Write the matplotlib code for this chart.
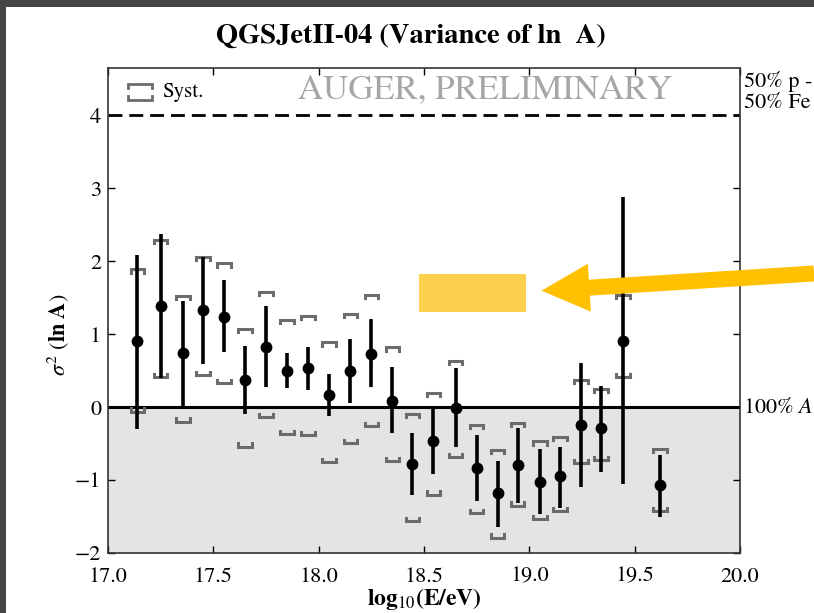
import numpy as np
import matplotlib
matplotlib.use("Agg")
from matplotlib import pyplot as plt
from matplotlib.patches import Rectangle, Polygon

plt.rcParams['font.family'] = ['STIXGeneral', 'DejaVu Serif']
plt.rcParams['mathtext.fontset'] = 'stix'

# log10(E/eV) of each bin
lg_e = np.array([17.14, 17.25, 17.355, 17.45, 17.55, 17.65, 17.75, 17.85, 17.95, 18.05,
                 18.15, 18.25, 18.35, 18.445, 18.545, 18.65, 18.75, 18.85, 18.945, 19.05,
                 19.145, 19.245, 19.34, 19.445, 19.62])
# sigma^2(ln A) and its statistical band
var_lna = np.array([0.90, 1.39, 0.74, 1.33, 1.24, 0.37, 0.83, 0.50, 0.53, 0.16,
                    0.49, 0.73, 0.09, -0.78, -0.46, -0.01, -0.83, -1.18, -0.80, -1.02,
                    -0.95, -0.24, -0.29, 0.91, -1.07])
stat_hi = np.array([2.09, 2.38, 1.46, 2.06, 1.74, 0.84, 1.38, 0.74, 0.82, 0.45,
                    0.93, 1.21, 0.55, -0.36, -0.02, 0.53, -0.38, -0.74, -0.29, -0.58,
                    -0.55, 0.60, 0.29, 2.88, -0.66])
stat_lo = np.array([-0.30, 0.40, -0.01, 0.59, 0.75, -0.10, 0.27, 0.26, 0.23, -0.12,
                    0.06, 0.27, -0.36, -1.21, -0.92, -0.54, -1.29, -1.65, -1.32, -1.47,
                    -1.38, -1.10, -0.89, -1.06, -1.50])
# systematic brackets
syst_hi = np.array([1.89, 2.29, 1.53, 2.06, 1.97, 1.07, 1.58, 1.20, 1.25, 0.89,
                    1.28, 1.54, 0.82, -0.09, 0.20, 0.63, -0.24, -0.59, -0.22, -0.47,
                    -0.41, 0.37, 0.25, 1.54, -0.57])
syst_lo = np.array([-0.06, 0.41, -0.20, 0.44, 0.33, -0.54, -0.14, -0.37, -0.38, -0.75,
                    -0.49, -0.26, -0.74, -1.56, -1.20, -0.69, -1.45, -1.79, -1.35, -1.54,
                    -1.43, -0.77, -0.73, 0.41, -1.43])

W, H = 814, 613
fig = plt.figure(figsize=(W / 100, H / 100), dpi=100)
fig.patch.set_facecolor('#454545')
fig.add_artist(Rectangle((6 / W, 0), 1, 1 - 7 / H, transform=fig.transFigure,
                         facecolor='white', edgecolor='none', zorder=-10))

ax = fig.add_axes([108 / W, 1 - 553 / H, 632 / W, 485 / H])
ax.set_xlim(17.0, 20.0)
ax.set_ylim(-2, 4.65)
ax.axhspan(-2, 0, color='#e4e4e4', zorder=0)
ax.axhline(0, color='black', lw=2.2, zorder=2)
ax.axhline(4, color='black', lw=2.0, ls=(0, (5, 2.5)), zorder=2)

# systematic brackets
bw, bh = 0.032, 0.045
gray = '#6b6b6b'
for x, hi, lo in zip(lg_e, syst_hi, syst_lo):
    ax.plot([x - bw, x - bw, x + bw, x + bw], [hi - bh, hi, hi, hi - bh],
            color=gray, lw=2.2, solid_joinstyle='miter', zorder=3)
    ax.plot([x - bw, x - bw, x + bw, x + bw], [lo + bh, lo, lo, lo + bh],
            color=gray, lw=2.2, solid_joinstyle='miter', zorder=3)

ax.errorbar(lg_e, var_lna, yerr=[var_lna - stat_lo, stat_hi - var_lna], fmt='o',
            color='black', ms=7.5, elinewidth=2.6, capsize=0, zorder=4)

# legend entry
lx0, lx1 = 0.032, 0.069
ly0, ly1 = 0.934, 0.966
ax.plot([lx0, lx0, lx1, lx1], [ly1 - 0.008, ly1, ly1, ly1 - 0.008], color=gray, lw=2,
        transform=ax.transAxes, solid_joinstyle='miter')
ax.plot([lx0, lx0, lx1, lx1], [ly0 + 0.008, ly0, ly0, ly0 + 0.008], color=gray, lw=2,
        transform=ax.transAxes, solid_joinstyle='miter')
ax.text(0.085, 0.950, 'Syst.', transform=ax.transAxes, fontsize=15, va='center')
ax.text(0.597, 0.955, 'AUGER, PRELIMINARY', transform=ax.transAxes, fontsize=25,
        color='#a6a6a6', ha='center', va='center')

ax.set_xticks([17.0, 17.5, 18.0, 18.5, 19.0, 19.5, 20.0])
ax.set_yticks([-2, -1, 0, 1, 2, 3, 4])
ax.tick_params(direction='in', top=True, right=True, length=5, width=1, labelsize=16)
ax.tick_params(axis='x', pad=10)
ax.tick_params(axis='y', pad=5)
for s in ax.spines.values():
    s.set_color('#333333')
    s.set_linewidth(1.2)

ax.set_xlabel(r'$\mathbf{log}_{10}\mathbf{(E/eV)}$', fontsize=17)
ax.set_ylabel(r'$\sigma^2\ (\mathbf{ln\ A})$', fontsize=16)
ax.xaxis.set_label_coords(0.5, -0.068)
ax.yaxis.set_label_coords(-0.058, 0.449)

fig.text(411 / W, 1 - 36 / H, 'QGSJetII-04 (Variance of ln  A)', fontsize=20.5,
         fontweight='bold', ha='center', va='center')
fig.text(744 / W, 1 - 81 / H, '50% p -', fontsize=16, va='center')
fig.text(744 / W, 1 - 103 / H, '50% Fe', fontsize=16, va='center')
fig.text(743 / W, 1 - 408 / H, '100% $A$', fontsize=16, va='center')

# highlight box and arrow overlay
fig.add_artist(Rectangle((419 / W, 1 - 312 / H), 107 / W, 38 / H, transform=fig.transFigure,
                         facecolor='#fdd14e', edgecolor='none', zorder=10))
tail = np.array([814.0, 273.5])
tip = np.array([541.5, 290.7])
u = (tip - tail) / np.linalg.norm(tip - tail)
n = np.array([-u[1], u[0]])
base = tip - 48 * u
pts = [tail + 8 * n, base + 8 * n, base + 24 * n, tip, base - 24 * n, base - 8 * n, tail - 8 * n]
pts = [(p[0] / W, 1 - p[1] / H) for p in pts]
fig.add_artist(Polygon(pts, closed=True, transform=fig.transFigure,
                       facecolor='#ffc000', edgecolor='none', zorder=11))

fig.savefig('out.png', dpi=100, facecolor=fig.get_facecolor())
